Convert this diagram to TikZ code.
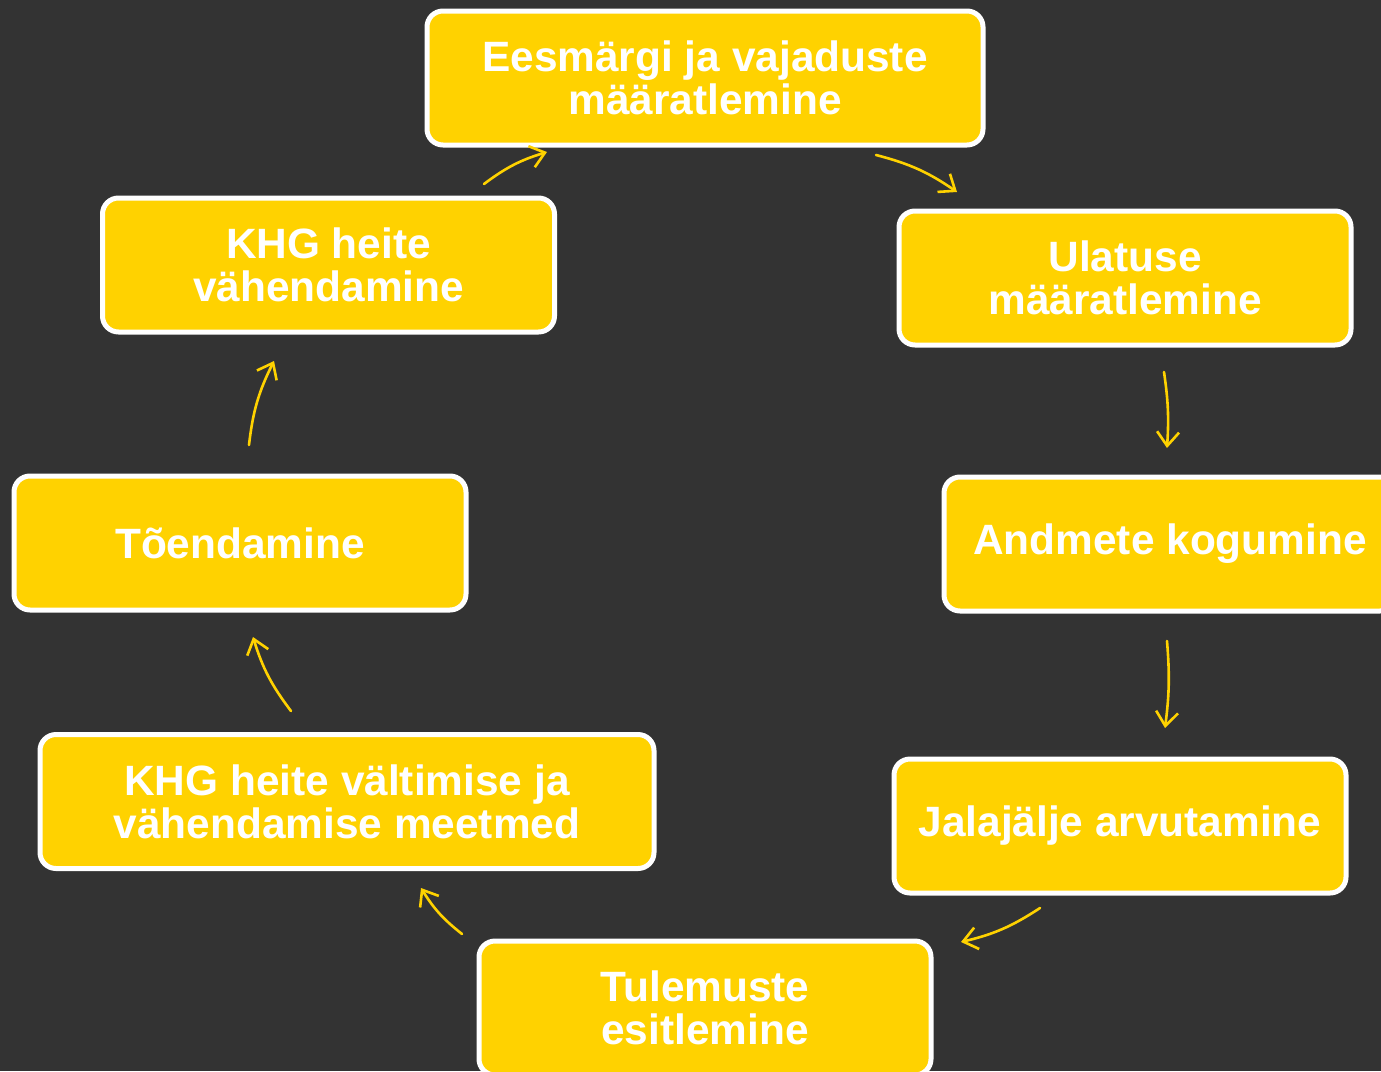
\documentclass[tikz,border=0pt]{standalone}
\usepackage{fontspec}
\setmainfont{Liberation Sans}
\usetikzlibrary{arrows.meta}
\tikzset{
	stage/.style = {draw=white, line width=2.5pt, fill=xgold, rounded corners=8pt, minimum height=67pt, minimum width=#1, inner sep=0pt, align=center, text=white, font=\fontsize{21.2}{21.5}\selectfont\bfseries},
	stage/.default = 226pt,
	cyc/.style = {xgold, line width=1.3pt, line cap=round, -{Straight Barb[length=7pt, width=11pt, line width=1.3pt]}, bend left=#1},
	cyc/.default = 10,
}
\definecolor{xgold}{HTML}{FFD200}
\definecolor{xbg}{HTML}{333333}

\begin{document}
\begin{tikzpicture}[x=0.5pt, y=-0.5pt]
			\useasboundingbox (0,0) rectangle (1381,1071);
			\fill[xbg] (0,0) rectangle (1381,1071);
			% stages of the cycle
			\node[stage=278pt] (goal) at (705,78)   {Eesmärgi ja vajaduste\\määratlemine};
			\node[stage]       (scope) at (1125,278) {Ulatuse\\määratlemine};
			\node[stage]       (data) at (1170,544)    {Andmete kogumine};
			\node[stage]       (calc) at (1120,826)  {Jalajälje arvutamine};
			\node[stage]       (report) at (705,1008) {Tulemuste\\esitlemine};
			\node[stage=307pt] (measures) at (347,801.5)  {KHG heite vältimise ja\\vähendamise meetmed};
			\node[stage]       (verify) at (240,543)  {Tõendamine};
			\node[stage]       (reduce) at (328.5,265) {KHG heite\\vähendamine};
			% arrow ends
			\coordinate (goal-out) at (876,155);     \coordinate (scope-in) at (957,192);
			\coordinate (scope-out) at (1164,372);   \coordinate (data-in) at (1167,448);
			\coordinate (data-out) at (1167,641);    \coordinate (calc-in) at (1165,728);
			\coordinate (calc-out) at (1040,908);    \coordinate (report-in) at (961,942);
			\coordinate (report-out) at (462,934);   \coordinate (measures-in) at (421,888);
			\coordinate (measures-out) at (291,711); \coordinate (verify-in) at (253,637);
			\coordinate (verify-out) at (249,445);   \coordinate (reduce-in) at (274,361);
			\coordinate (reduce-out) at (484,184);   \coordinate (goal-in) at (547,152);
			\draw[cyc] (goal-out) to (scope-in);
			\draw[cyc=6] (scope-out) to (data-in);
			\draw[cyc=6] (data-out) to (calc-in);
			\draw[cyc] (calc-out) to (report-in);
			\draw[cyc] (report-out) to (measures-in);
			\draw[cyc] (measures-out) to (verify-in);
			\draw[cyc] (verify-out) to (reduce-in);
			\draw[cyc] (reduce-out) to (goal-in);
		\end{tikzpicture}
\end{document}
